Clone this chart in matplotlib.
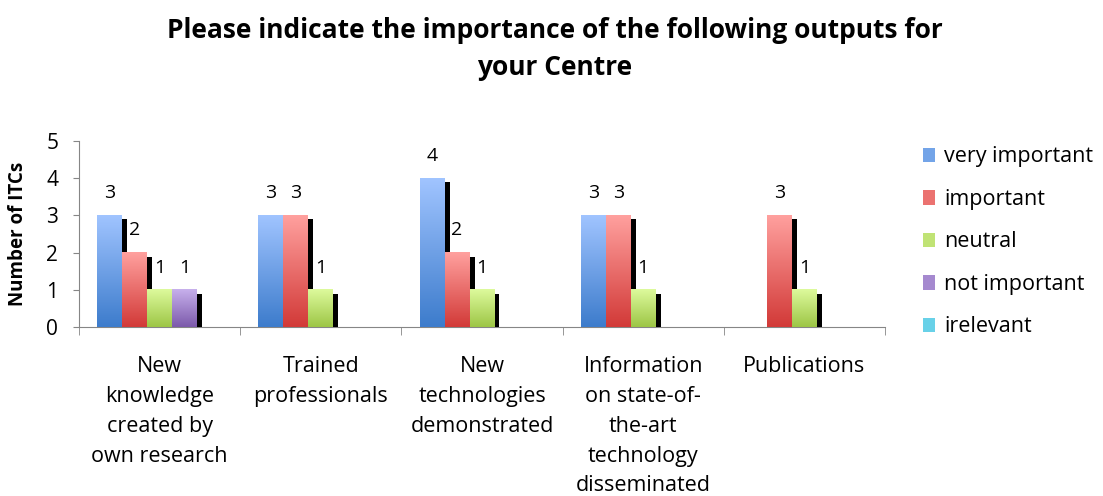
import matplotlib
matplotlib.use('Agg')
import matplotlib.pyplot as plt
import numpy as np
from matplotlib.colors import LinearSegmentedColormap
from matplotlib.patches import Rectangle, Patch

plt.rcParams['font.family'] = ['Open Sans', 'DejaVu Sans']

# Data
categories = ['New\nknowledge\ncreated by\nown research', 'Trained\nprofessionals',
              'New\ntechnologies\ndemonstrated',
              'Information\non state-of-\nthe-art\ntechnology\ndisseminated', 'Publications']
series_names = ['very important', 'important', 'neutral', 'not important', 'irelevant']
very_important = [3, 3, 4, 3, 0]
important = [2, 3, 2, 3, 3]
neutral = [1, 1, 1, 1, 1]
not_important = [1, 0, 0, 0, 0]
irelevant = [0, 0, 0, 0, 0]
values = [very_important, important, neutral, not_important, irelevant]

# gradient colours (top, bottom) per series
grads = [('#a0c4ff', '#3d7ccc'), ('#ffa09e', '#d23a38'), ('#ddfa9c', '#9dc646'),
         ('#c7b0ec', '#7c5aab'), ('#90e8f8', '#38b5d4')]

fig = plt.figure(figsize=(11.03, 4.96), dpi=100)
ax = fig.add_axes([79 / 1103, 1 - 327 / 496, (885 - 79) / 1103, (327 - 141) / 496])

x = np.arange(len(categories))
w = 0.155
dx_sh = 0.031
dy_sh = 0.107

for i, (name, vals) in enumerate(zip(series_names, values)):
    cmap = LinearSegmentedColormap.from_list(name, [grads[i][1], grads[i][0]])
    grad = np.linspace(0, 1, 100).reshape(-1, 1)
    for j, v in enumerate(vals):
        if v <= 0:
            continue
        x0 = x[j] + (i - 2) * w - w / 2
        # shadow
        ax.add_patch(Rectangle((x0 + dx_sh, 0), w, v - dy_sh, facecolor='black',
                               edgecolor='none', zorder=2 + i * 2))
        ax.imshow(grad, extent=(x0, x0 + w, 0, v), origin='lower', cmap=cmap,
                  aspect='auto', zorder=3 + i * 2, interpolation='bilinear')
        ax.annotate(str(v), (x0 + w / 2, v), xytext=(0, 16), textcoords='offset points',
                    ha='center', va='center', fontsize=14, zorder=20)

ax.set_xlim(-0.5, len(categories) - 0.5)
ax.set_ylim(0, 5)
ax.set_yticks(range(6))
ax.tick_params(axis='y', labelsize=15, length=4, color='#868686', pad=11)

ax.set_xticks(x)
ax.set_xticklabels(categories, fontsize=15.5, linespacing=1.55)
ax.tick_params(axis='x', length=0, pad=21)
ax.set_xticks(np.arange(len(categories) + 1) - 0.5, minor=True)
ax.tick_params(axis='x', which='minor', length=6, color='#868686')

for s in ['top', 'right']:
    ax.spines[s].set_visible(False)
for s in ['left', 'bottom']:
    ax.spines[s].set_color('#868686')

ax.set_ylabel('Number of ITCs', fontsize=13.5, fontweight='bold')
ax.yaxis.set_label_coords(-0.063, 0.5)

fig.text(0.503, 0.901, 'Please indicate the importance of the following outputs for\nyour Centre',
         ha='center', va='center', fontsize=19, fontweight='bold', linespacing=1.5)

handles = [Patch(facecolor=LinearSegmentedColormap.from_list('h', [g[1], g[0]])(0.55),
                 edgecolor='none') for g in grads]
fig.legend(handles, series_names, loc='upper left', bbox_to_anchor=(904 / 1103, 1 - 127 / 496),
           frameon=False, fontsize=15.5, handlelength=0.55, handleheight=0.65,
           labelspacing=1.0, handletextpad=0.42)

fig.savefig('out.png', dpi=100)
